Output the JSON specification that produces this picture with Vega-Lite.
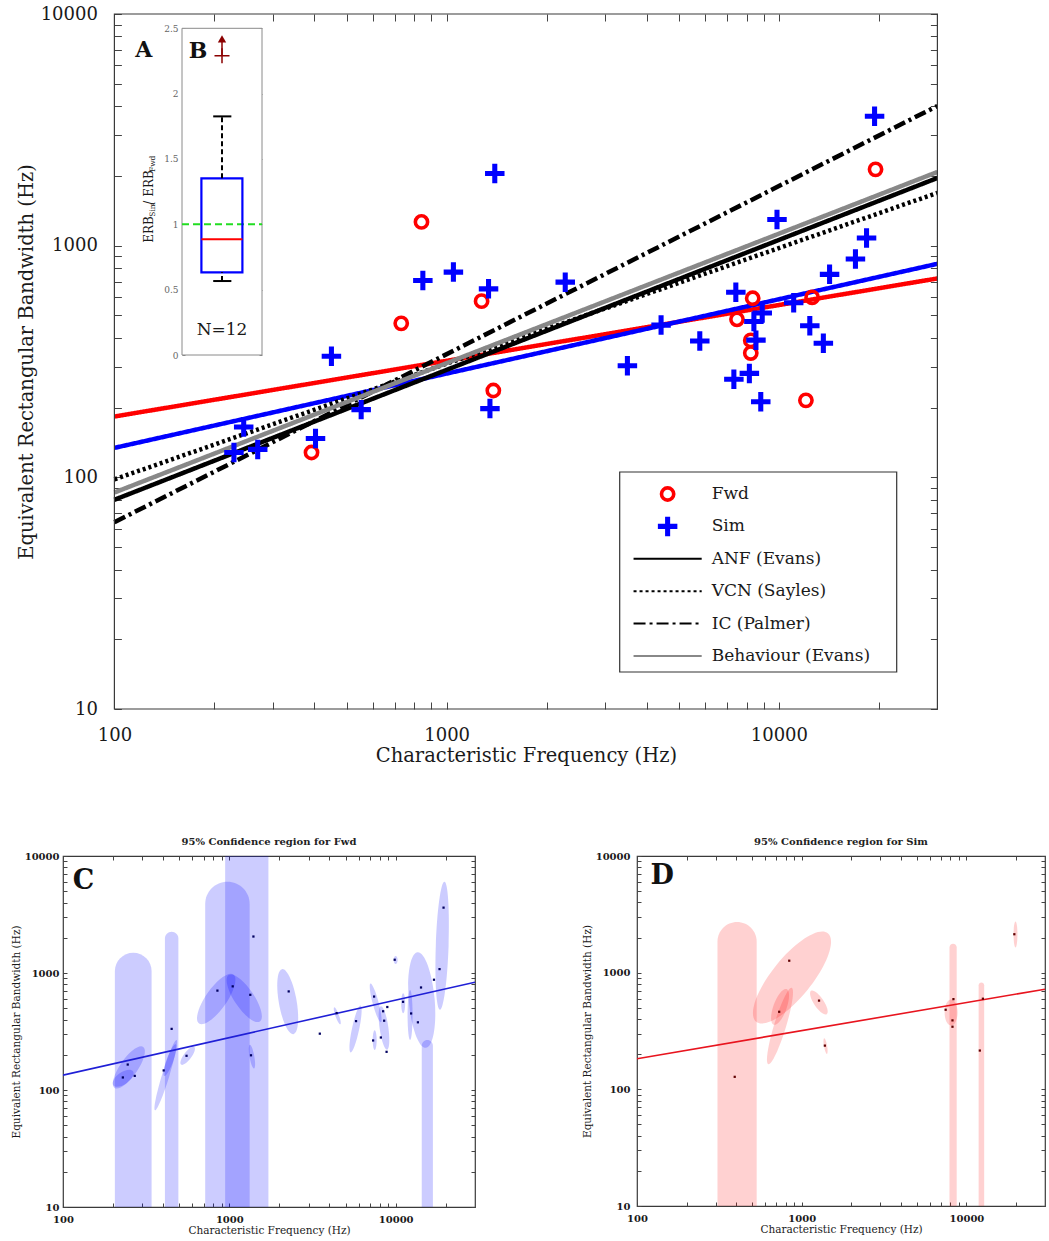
{
"$schema": "https://vega.github.io/schema/vega-lite/v6.json",
"padding": {"left": 10, "top": 5, "right": 0, "bottom": 0},
"config": {
  "view": {"stroke": "#3a3a3a", "strokeWidth": 1.2},
  "font": "DejaVu Serif",
  "axis": {"domain": false, "grid": false, "tickColor": "#444444", "tickWidth": 1, "labelColor": "#1a1a1a", "titleColor": "#1a1a1a", "titleFontWeight": "normal", "labelFont": "DejaVu Serif", "titleFont": "DejaVu Serif"},
  "text": {"font": "DejaVu Serif"}
},
"datasets": {
  "fwd": [{"cf":392,"erb":128},{"cf":730,"erb":462},{"cf":840,"erb":1266},{"cf":1274,"erb":576},{"cf":1382,"erb":237},{"cf":7480,"erb":481},{"cf":8340,"erb":593},{"cf":8230,"erb":390},{"cf":8230,"erb":344},{"cf":12060,"erb":215},{"cf":12590,"erb":598},{"cf":19540,"erb":2135}],
  "sim": [{"cf":229,"erb":128},{"cf":245,"erb":165},{"cf":270,"erb":132},{"cf":403,"erb":147},{"cf":450,"erb":333},{"cf":553,"erb":196},{"cf":848,"erb":707},{"cf":1048,"erb":769},{"cf":1337,"erb":651},{"cf":1396,"erb":2050},{"cf":1350,"erb":198},{"cf":2275,"erb":696},{"cf":3500,"erb":303},{"cf":4420,"erb":454},{"cf":5780,"erb":388},{"cf":7420,"erb":629},{"cf":7320,"erb":265},{"cf":8150,"erb":281},{"cf":8410,"erb":471},{"cf":8530,"erb":391},{"cf":8910,"erb":512},{"cf":8820,"erb":212},{"cf":9870,"erb":1298},{"cf":11080,"erb":567},{"cf":12390,"erb":451},{"cf":13610,"erb":379},{"cf":14210,"erb":752},{"cf":17000,"erb":876},{"cf":18360,"erb":1080},{"cf":19410,"erb":3620}],
  "lines": [
    {"series":"Fwd","cf":100,"erb":183},{"series":"Fwd","cf":30000,"erb":722},
    {"series":"Sim","cf":100,"erb":134},{"series":"Sim","cf":30000,"erb":835},
    {"series":"ANF (Evans)","cf":100,"erb":80},{"series":"ANF (Evans)","cf":30000,"erb":1960},
    {"series":"VCN (Sayles)","cf":100,"erb":98},{"series":"VCN (Sayles)","cf":30000,"erb":1690},
    {"series":"IC (Palmer)","cf":100,"erb":64},{"series":"IC (Palmer)","cf":30000,"erb":4010},
    {"series":"Behaviour (Evans)","cf":100,"erb":86},{"series":"Behaviour (Evans)","cf":30000,"erb":2080}
  ],
  "legendRows": [{"series":"Fwd"},{"series":"Sim"},{"series":"ANF (Evans)"},{"series":"VCN (Sayles)"},{"series":"IC (Palmer)"},{"series":"Behaviour (Evans)"}],
  "box": [{"q1":0.633,"median":0.885,"q3":1.352,"lo":0.566,"hi":1.826,"out":2.29}],
  "colsC": [{"lo":205,"hi":341,"top":1490},{"lo":410,"hi":494,"top":2254},{"lo":716,"hi":1325,"top":6026},{"lo":944,"hi":1718,"top":15000},{"lo":14350,"hi":16750,"top":267}],
  "ellC": [
    {"cf":834,"erb":600,"half":0.256,"kind":"k35","tilt":35},
    {"cf":1230,"erb":608,"half":0.239,"kind":"k35","tilt":-34},
    {"cf":249,"erb":156,"half":0.214,"kind":"k35","tilt":35},
    {"cf":230,"erb":126,"half":0.103,"kind":"k50","tilt":55},
    {"cf":415,"erb":134,"half":0.314,"kind":"k10","tilt":17},
    {"cf":440,"erb":180,"half":0.145,"kind":"k20","tilt":20},
    {"cf":562,"erb":196,"half":0.094,"kind":"k35","tilt":37},
    {"cf":1368,"erb":193,"half":0.103,"kind":"k20","tilt":-10},
    {"cf":2244,"erb":569,"half":0.282,"kind":"k27","tilt":-10},
    {"cf":4456,"erb":431,"half":0.077,"kind":"k20","tilt":-20},
    {"cf":5741,"erb":332,"half":0.205,"kind":"k15","tilt":12},
    {"cf":7585,"erb":555,"half":0.171,"kind":"k15","tilt":-15},
    {"cf":8511,"erb":339,"half":0.188,"kind":"k20","tilt":-8},
    {"cf":7480,"erb":267,"half":0.085,"kind":"k20","tilt":0},
    {"cf":10000,"erb":1291,"half":0.034,"kind":"k50","tilt":0},
    {"cf":11100,"erb":551,"half":0.085,"kind":"k20","tilt":0},
    {"cf":12210,"erb":437,"half":0.214,"kind":"k10","tilt":0},
    {"cf":14350,"erb":588,"half":0.41,"kind":"k27","tilt":-5},
    {"cf":19050,"erb":1710,"half":0.547,"kind":"k10","tilt":2}
  ],
  "colsD": [{"lo":308,"hi":533,"top":2716},{"lo":7890,"hi":8730,"top":1766},{"lo":11860,"hi":12820,"top":825}],
  "ellD": [
    {"cf":873,"erb":910,"half":0.487,"kind":"k35","tilt":39},
    {"cf":738,"erb":349,"half":0.342,"kind":"k15","tilt":17},
    {"cf":739,"erb":509,"half":0.162,"kind":"k35","tilt":20},
    {"cf":1271,"erb":555,"half":0.12,"kind":"k35","tilt":-34},
    {"cf":1396,"erb":235,"half":0.068,"kind":"k20","tilt":-10},
    {"cf":8070,"erb":455,"half":0.111,"kind":"k50","tilt":0},
    {"cf":19860,"erb":2128,"half":0.111,"kind":"k15","tilt":0}
  ]
},
"spacing": 71,
"vconcat": [
{
  "width": 874.4, "height": 695,
  "view": {"stroke": null},
  "layer": [
    {
      "layer": [
        {
          "data": {"name": "lines"},
          "mark": {"type": "line", "clip": true},
          "encoding": {
            "x": {"field": "cf", "type": "quantitative", "scale": {"type": "log", "domain": [100, 30000], "range": [51.4, 874.4], "nice": false},
              "axis": {"orient": "bottom", "values": [100,200,300,400,500,600,700,800,900,1000,2000,3000,4000,5000,6000,7000,8000,9000,10000,20000], "format": "d", "labelExpr": "indexof([10,100,1000,10000], datum.value) >= 0 ? datum.label : ''", "labelOverlap": false, "labelFlush": false, "offset": -7, "tickSize": 7, "labelPadding": 17, "labelFontSize": 18, "title": "Characteristic Frequency (Hz)", "titleFontSize": 19.5, "titlePadding": 2}},
            "y": {"field": "erb", "type": "quantitative", "scale": {"type": "log", "domain": [10, 10000], "nice": false},
              "axis": {"orient": "left", "values": [10,20,30,40,50,60,70,80,90,100,200,300,400,500,600,700,800,900,1000,2000,3000,4000,5000,6000,7000,8000,9000,10000], "format": "d", "labelExpr": "indexof([10,100,1000,10000], datum.value) >= 0 ? datum.label : ''", "labelOverlap": false, "labelFlush": false, "offset": -58.4, "tickSize": 7, "labelPadding": 17, "labelFontSize": 18, "title": "Equivalent Rectangular Bandwidth (Hz)", "titleFontSize": 19.5, "titlePadding": 4}},
            "color": {"field": "series", "type": "nominal", "legend": null,
              "scale": {"domain": ["Fwd","Sim","ANF (Evans)","VCN (Sayles)","IC (Palmer)","Behaviour (Evans)"], "range": ["#ff0000","#0000ff","#000000","#000000","#000000","#888888"]}},
            "strokeDash": {"field": "series", "type": "nominal", "scale": {"domain": ["Fwd","Sim","ANF (Evans)","VCN (Sayles)","IC (Palmer)","Behaviour (Evans)"], "range": [[1,0],[1,0],[1,0],[3,3],[12,4,3,4],[1,0]]}, "legend": null},
            "strokeWidth": {"field": "series", "type": "nominal", "scale": {"domain": ["Fwd","Sim","ANF (Evans)","VCN (Sayles)","IC (Palmer)","Behaviour (Evans)"], "range": [4.5,4.5,2,2,2,2]}, "legend": null}
          }
        },
        {
          "data": {"name": "fwd"},
          "mark": {"type": "point", "shape": "circle", "filled": false, "color": "#ff0000", "strokeWidth": 3.6, "size": 150, "opacity": 1},
          "encoding": {
            "x": {"field": "cf", "type": "quantitative", "scale": {"type": "log", "domain": [100, 30000], "range": [51.4, 874.4], "nice": false},
              "axis": {"orient": "top", "values": [100,200,300,400,500,600,700,800,900,1000,2000,3000,4000,5000,6000,7000,8000,9000,10000,20000], "labels": false, "offset": -7, "tickSize": 7, "title": null}},
            "y": {"field": "erb", "type": "quantitative", "scale": {"type": "log", "domain": [10, 10000], "nice": false},
              "axis": {"orient": "right", "values": [10,20,30,40,50,60,70,80,90,100,200,300,400,500,600,700,800,900,1000,2000,3000,4000,5000,6000,7000,8000,9000,10000], "labels": false, "offset": -7, "tickSize": 7, "title": null}}
          }
        },
        {
          "data": {"name": "sim"},
          "mark": {"type": "point", "shape": "M-1,-0.26H-0.26V-1H0.26V-0.26H1V0.26H0.26V1H-0.26V0.26H-1Z", "filled": true, "color": "#0000ff", "size": 380, "opacity": 1},
          "encoding": {
            "x": {"field": "cf", "type": "quantitative", "scale": {"type": "log", "domain": [100, 30000], "range": [51.4, 874.4], "nice": false}, "axis": null},
            "y": {"field": "erb", "type": "quantitative", "scale": {"type": "log", "domain": [10, 10000], "nice": false}, "axis": null}
          }
        },
        {
          "data": {"values": [{}]},
          "mark": {"type": "rect", "fill": "transparent", "stroke": "#3a3a3a", "strokeWidth": 1.2},
          "encoding": {
            "x": {"datum": 100, "type": "quantitative", "scale": {"type": "log", "domain": [100, 30000], "range": [51.4, 874.4], "nice": false}, "axis": null},
            "x2": {"datum": 30000},
            "y": {"datum": 10, "type": "quantitative", "scale": {"type": "log", "domain": [10, 10000], "nice": false}, "axis": null},
            "y2": {"datum": 10000}
          }
        },
        {
          "data": {"values": [{}]},
          "mark": {"type": "text", "text": "A", "fontSize": 22, "fontWeight": "bold", "align": "center", "baseline": "middle", "color": "#111111"},
          "encoding": {
            "x": {"datum": 122.5, "type": "quantitative", "scale": {"type": "log", "domain": [100, 30000], "range": [51.4, 874.4], "nice": false}, "axis": null},
            "y": {"datum": 7000, "type": "quantitative", "scale": {"type": "log", "domain": [10, 10000], "nice": false}, "axis": null}
          }
        }
      ],
      "resolve": {"axis": {"x": "independent", "y": "independent"}}
    },
    {
      "layer": [
        {
          "data": {"values": [{}]},
          "mark": {"type": "rect", "fill": "#ffffff", "stroke": "#8a8a8a", "strokeWidth": 1},
          "encoding": {
            "x": {"datum": 0, "type": "quantitative", "scale": {"domain": [0, 1], "range": [119, 199], "nice": false, "zero": false}, "axis": null},
            "x2": {"datum": 1},
            "y": {"datum": 0, "type": "quantitative", "scale": {"domain": [0, 2.5], "range": [341, 14.3], "nice": false, "zero": false},
              "axis": {"orient": "left", "offset": -122, "values": [0,0.5,1,1.5,2,2.5], "format": "~g", "tickSize": 3, "labelPadding": 4, "labelFontSize": 9, "labelColor": "#666666", "tickColor": "#888888", "labelFlush": false, "labelOverlap": false, "title": null}},
            "y2": {"datum": 2.5}
          }
        },
        {
          "data": {"values": [{}]},
          "mark": {"type": "rule", "color": "#22dd22", "strokeWidth": 2, "strokeDash": [7, 4]},
          "encoding": {
            "x": {"datum": 0, "type": "quantitative", "axis": null},
            "x2": {"datum": 1},
            "y": {"datum": 1, "type": "quantitative",
              "axis": {"orient": "right", "offset": -678.4, "values": [0,0.5,1,1.5,2,2.5], "labels": false, "tickSize": 3, "tickColor": "#888888", "title": null}}
          }
        },
        {
          "data": {"name": "box"},
          "mark": {"type": "rect", "fill": "transparent", "stroke": "#0000ff", "strokeWidth": 2.2},
          "encoding": {
            "x": {"datum": 0.2425, "type": "quantitative", "axis": null}, "x2": {"datum": 0.755},
            "y": {"field": "q1", "type": "quantitative", "axis": null}, "y2": {"field": "q3"}
          }
        },
        {
          "data": {"name": "box"},
          "mark": {"type": "rule", "color": "#ff0000", "strokeWidth": 2},
          "encoding": {
            "x": {"datum": 0.2425, "type": "quantitative", "axis": null}, "x2": {"datum": 0.755},
            "y": {"field": "median", "type": "quantitative", "axis": null}
          }
        },
        {
          "data": {"name": "box"},
          "mark": {"type": "rule", "color": "#000000", "strokeWidth": 2, "strokeDash": [5, 3]},
          "encoding": {
            "x": {"datum": 0.5, "type": "quantitative", "axis": null},
            "y": {"field": "q3", "type": "quantitative", "axis": null}, "y2": {"field": "hi"}
          }
        },
        {
          "data": {"name": "box"},
          "mark": {"type": "rule", "color": "#000000", "strokeWidth": 2, "strokeDash": [5, 3]},
          "encoding": {
            "x": {"datum": 0.5, "type": "quantitative", "axis": null},
            "y": {"field": "lo", "type": "quantitative", "axis": null}, "y2": {"field": "q1"}
          }
        },
        {
          "data": {"name": "box"},
          "mark": {"type": "rule", "color": "#000000", "strokeWidth": 2},
          "encoding": {
            "x": {"datum": 0.39, "type": "quantitative", "axis": null}, "x2": {"datum": 0.617},
            "y": {"field": "hi", "type": "quantitative", "axis": null}
          }
        },
        {
          "data": {"name": "box"},
          "mark": {"type": "rule", "color": "#000000", "strokeWidth": 2},
          "encoding": {
            "x": {"datum": 0.39, "type": "quantitative", "axis": null}, "x2": {"datum": 0.617},
            "y": {"field": "lo", "type": "quantitative", "axis": null}
          }
        },
        {
          "data": {"name": "box"},
          "mark": {"type": "rule", "color": "#8b0000", "strokeWidth": 1.5},
          "encoding": {
            "x": {"datum": 0.5, "type": "quantitative", "axis": null},
            "y": {"field": "out", "type": "quantitative", "axis": null}, "y2": {"datum": 2.4}
          }
        },
        {
          "data": {"name": "box"},
          "mark": {"type": "point", "shape": "M-1,-0.1H-0.1V-1H0.1V-0.1H1V0.1H0.1V1H-0.1V0.1H-1Z", "filled": true, "color": "#8b0000", "size": 225, "opacity": 1},
          "encoding": {
            "x": {"datum": 0.5, "type": "quantitative", "axis": null},
            "y": {"field": "out", "type": "quantitative", "axis": null}
          }
        },
        {
          "data": {"values": [{}]},
          "mark": {"type": "point", "shape": "triangle-up", "filled": true, "color": "#8b0000", "size": 70, "opacity": 1},
          "encoding": {
            "x": {"datum": 0.5, "type": "quantitative", "axis": null},
            "y": {"datum": 2.42, "type": "quantitative", "axis": null}
          }
        },
        {
          "data": {"values": [{}]},
          "mark": {"type": "text", "text": "N=12", "fontSize": 17, "align": "center", "baseline": "middle", "color": "#1a1a1a"},
          "encoding": {
            "x": {"datum": 0.5, "type": "quantitative", "axis": null},
            "y": {"datum": 0.19, "type": "quantitative", "axis": null}
          }
        },
        {
          "data": {"values": [{}]},
          "mark": {"type": "text", "text": "B", "fontSize": 22, "fontWeight": "bold", "align": "center", "baseline": "middle", "color": "#111111"},
          "encoding": {
            "x": {"datum": 0.2, "type": "quantitative", "axis": null},
            "y": {"datum": 2.33, "type": "quantitative", "axis": null}
          }
        },
        {
          "data": {"values": [{}]},
          "mark": {"type": "text", "text": "ERB", "fontSize": 12, "angle": 270, "align": "left", "baseline": "middle", "color": "#1a1a1a"},
          "encoding": {"x": {"datum": -0.4125, "type": "quantitative", "axis": null}, "y": {"datum": 0.859, "type": "quantitative", "axis": null}}
        },
        {
          "data": {"values": [{}]},
          "mark": {"type": "text", "text": "Sim", "fontSize": 7.5, "angle": 270, "align": "left", "baseline": "middle", "color": "#1a1a1a"},
          "encoding": {"x": {"datum": -0.3625, "type": "quantitative", "axis": null}, "y": {"datum": 1.058, "type": "quantitative", "axis": null}}
        },
        {
          "data": {"values": [{}]},
          "mark": {"type": "text", "text": "/ ERB", "fontSize": 12, "angle": 270, "align": "left", "baseline": "middle", "color": "#1a1a1a"},
          "encoding": {"x": {"datum": -0.4125, "type": "quantitative", "axis": null}, "y": {"datum": 1.15, "type": "quantitative", "axis": null}}
        },
        {
          "data": {"values": [{}]},
          "mark": {"type": "text", "text": "Fwd", "fontSize": 7.5, "angle": 270, "align": "left", "baseline": "middle", "color": "#1a1a1a"},
          "encoding": {"x": {"datum": -0.3625, "type": "quantitative", "axis": null}, "y": {"datum": 1.4, "type": "quantitative", "axis": null}}
        }
      ],
      "resolve": {"axis": {"x": "independent", "y": "independent"}}
    },
    {
      "data": {"values": [{}]},
      "mark": {"type": "rect", "fill": "#ffffff", "stroke": "#333333", "strokeWidth": 1.2},
      "encoding": {
        "x": {"datum": 0, "type": "quantitative", "scale": {"domain": [0, 1], "range": [556.7, 833.7], "nice": false, "zero": false}, "axis": null},
        "x2": {"datum": 1},
        "y": {"datum": 0, "type": "quantitative", "scale": {"domain": [0, 1], "range": [658, 458], "nice": false, "zero": false}, "axis": null},
        "y2": {"datum": 1}
      }
    },
    {
      "layer": [
        {
          "data": {"name": "legendRows"},
          "transform": [{"filter": "datum.series !== 'Fwd' && datum.series !== 'Sim'"}],
          "mark": {"type": "rule", "strokeWidth": 2},
          "encoding": {
            "x": {"datum": 0.05, "type": "quantitative", "scale": {"domain": [0, 1], "range": [556.7, 833.7], "nice": false, "zero": false}, "axis": null},
            "x2": {"datum": 0.296},
            "y": {"field": "series", "type": "nominal", "scale": {"type": "point", "domain": ["Fwd","Sim","ANF (Evans)","VCN (Sayles)","IC (Palmer)","Behaviour (Evans)"], "range": [480, 642], "padding": 0}, "axis": null},
            "color": {"field": "series", "type": "nominal", "legend": null,
              "scale": {"domain": ["Fwd","Sim","ANF (Evans)","VCN (Sayles)","IC (Palmer)","Behaviour (Evans)"], "range": ["#ff0000","#0000ff","#000000","#000000","#000000","#888888"]}},
            "strokeDash": {"field": "series", "type": "nominal", "scale": {"domain": ["Fwd","Sim","ANF (Evans)","VCN (Sayles)","IC (Palmer)","Behaviour (Evans)"], "range": [[1,0],[1,0],[1,0],[3,3],[12,4,3,4],[1,0]]}, "legend": null}
          }
        },
        {
          "data": {"name": "legendRows"},
          "transform": [{"filter": "datum.series === 'Fwd'"}],
          "mark": {"type": "point", "shape": "circle", "filled": false, "color": "#ff0000", "strokeWidth": 3.6, "size": 150, "opacity": 1},
          "encoding": {
            "x": {"datum": 0.173, "type": "quantitative", "axis": null},
            "y": {"field": "series", "type": "nominal", "axis": null}
          }
        },
        {
          "data": {"name": "legendRows"},
          "transform": [{"filter": "datum.series === 'Sim'"}],
          "mark": {"type": "point", "shape": "M-1,-0.26H-0.26V-1H0.26V-0.26H1V0.26H0.26V1H-0.26V0.26H-1Z", "filled": true, "color": "#0000ff", "size": 380, "opacity": 1},
          "encoding": {
            "x": {"datum": 0.173, "type": "quantitative", "axis": null},
            "y": {"field": "series", "type": "nominal", "axis": null}
          }
        },
        {
          "data": {"name": "legendRows"},
          "mark": {"type": "text", "align": "left", "baseline": "middle", "fontSize": 17, "color": "#1a1a1a"},
          "encoding": {
            "x": {"datum": 0.332, "type": "quantitative", "axis": null},
            "y": {"field": "series", "type": "nominal", "axis": null},
            "text": {"field": "series"}
          }
        }
      ]
    }
  ],
  "resolve": {"scale": {"x": "independent", "y": "independent"}}
},
{
  "spacing": 104,
  "hconcat": [
    {
      "width": 412, "height": 351,
      "title": {"text": "95% Confidence region for Fwd", "fontSize": 10, "fontWeight": "bold", "font": "DejaVu Serif", "offset": 4, "frame": "group", "anchor": "middle", "color": "#222222"},
      "layer": [
        {
          "data": {"name": "colsC"},
          "mark": {"type": "rect", "color": "#0000ff", "opacity": 0.2, "clip": true, "cornerRadiusTopLeft": 60, "cornerRadiusTopRight": 60},
          "encoding": {
            "x": {"field": "lo", "type": "quantitative", "scale": {"type": "log", "domain": [100, 30000], "nice": false},
              "axis": {"orient": "bottom", "values": [100,200,300,400,500,600,700,800,900,1000,2000,3000,4000,5000,6000,7000,8000,9000,10000,20000], "format": "d", "labelExpr": "indexof([10,100,1000,10000], datum.value) >= 0 ? datum.label : ''", "labelOverlap": false, "labelFlush": false, "offset": -4, "tickSize": 4, "labelPadding": 7, "labelFontSize": 10, "labelFontWeight": "bold", "title": "Characteristic Frequency (Hz)", "titleFontSize": 10.5, "titlePadding": 1}},
            "x2": {"field": "hi"},
            "y": {"field": "top", "type": "quantitative", "scale": {"type": "log", "domain": [10, 10000], "nice": false},
              "axis": {"orient": "left", "values": [10,20,30,40,50,60,70,80,90,100,200,300,400,500,600,700,800,900,1000,2000,3000,4000,5000,6000,7000,8000,9000,10000], "format": "d", "labelExpr": "indexof([10,100,1000,10000], datum.value) >= 0 ? datum.label : ''", "labelOverlap": false, "labelFlush": false, "offset": -4, "tickSize": 4, "labelPadding": 4, "labelFontSize": 10, "labelFontWeight": "bold", "title": "Equivalent Rectangular Bandwidth (Hz)", "titleFontSize": 10.5, "titlePadding": 3}},
            "y2": {"datum": 10}
          }
        },
        {
          "data": {"name": "ellC"},
          "mark": {"type": "point", "filled": true, "color": "#0000ff", "opacity": 0.2, "clip": true},
          "encoding": {
            "x": {"field": "cf", "type": "quantitative", "scale": {"type": "log", "domain": [100, 30000], "nice": false},
              "axis": {"orient": "top", "values": [100,200,300,400,500,600,700,800,900,1000,2000,3000,4000,5000,6000,7000,8000,9000,10000,20000], "labels": false, "offset": -4, "tickSize": 4, "title": null}},
            "y": {"field": "erb", "type": "quantitative", "scale": {"type": "log", "domain": [10, 10000], "nice": false},
              "axis": {"orient": "right", "values": [10,20,30,40,50,60,70,80,90,100,200,300,400,500,600,700,800,900,1000,2000,3000,4000,5000,6000,7000,8000,9000,10000], "labels": false, "offset": -4, "tickSize": 4, "title": null}},
            "shape": {"field": "kind", "type": "nominal", "legend": null, "scale": {"domain": ["k10","k15","k20","k27","k35","k50"], "range": [
              "M0,-1C0.0552,-1,0.1,-0.5523,0.1,0C0.1,0.5523,0.0552,1,0,1C-0.0552,1,-0.1,0.5523,-0.1,0C-0.1,-0.5523,-0.0552,-1,0,-1Z",
              "M0,-1C0.0828,-1,0.15,-0.5523,0.15,0C0.15,0.5523,0.0828,1,0,1C-0.0828,1,-0.15,0.5523,-0.15,0C-0.15,-0.5523,-0.0828,-1,0,-1Z",
              "M0,-1C0.1105,-1,0.2,-0.5523,0.2,0C0.2,0.5523,0.1105,1,0,1C-0.1105,1,-0.2,0.5523,-0.2,0C-0.2,-0.5523,-0.1105,-1,0,-1Z",
              "M0,-1C0.1491,-1,0.27,-0.5523,0.27,0C0.27,0.5523,0.1491,1,0,1C-0.1491,1,-0.27,0.5523,-0.27,0C-0.27,-0.5523,-0.1491,-1,0,-1Z",
              "M0,-1C0.1933,-1,0.35,-0.5523,0.35,0C0.35,0.5523,0.1933,1,0,1C-0.1933,1,-0.35,0.5523,-0.35,0C-0.35,-0.5523,-0.1933,-1,0,-1Z",
              "M0,-1C0.2762,-1,0.5,-0.5523,0.5,0C0.5,0.5523,0.2762,1,0,1C-0.2762,1,-0.5,0.5523,-0.5,0C-0.5,-0.5523,-0.2762,-1,0,-1Z"]}},
            "size": {"field": "half", "type": "quantitative", "legend": null, "scale": {"type": "pow", "exponent": 2, "domain": [0, 1], "range": [0, 54756]}},
            "angle": {"field": "tilt", "type": "quantitative", "scale": null}
          }
        },
        {
          "data": {"name": "lines"},
          "transform": [{"filter": "datum.series === 'Sim'"}],
          "mark": {"type": "line", "color": "#1f1fd6", "strokeWidth": 1.6, "clip": true},
          "encoding": {
            "x": {"field": "cf", "type": "quantitative", "scale": {"type": "log", "domain": [100, 30000], "nice": false}, "axis": null},
            "y": {"field": "erb", "type": "quantitative", "scale": {"type": "log", "domain": [10, 10000], "nice": false}, "axis": null}
          }
        },
        {
          "data": {"name": "sim"},
          "mark": {"type": "point", "shape": "square", "filled": true, "color": "#000060", "size": 5, "opacity": 1},
          "encoding": {
            "x": {"field": "cf", "type": "quantitative", "scale": {"type": "log", "domain": [100, 30000], "nice": false}, "axis": null},
            "y": {"field": "erb", "type": "quantitative", "scale": {"type": "log", "domain": [10, 10000], "nice": false}, "axis": null}
          }
        },
        {
          "data": {"values": [{}]},
          "mark": {"type": "text", "text": "C", "fontSize": 27, "fontWeight": "bold", "align": "center", "baseline": "middle", "color": "#111111"},
          "encoding": {
            "x": {"datum": 133, "type": "quantitative", "scale": {"type": "log", "domain": [100, 30000], "nice": false}, "axis": null},
            "y": {"datum": 6110, "type": "quantitative", "scale": {"type": "log", "domain": [10, 10000], "nice": false}, "axis": null}
          }
        }
      ],
      "resolve": {"axis": {"x": "independent", "y": "independent"}}
    },
    {
      "width": 408, "height": 350,
      "title": {"text": "95% Confidence region for Sim", "fontSize": 10, "fontWeight": "bold", "font": "DejaVu Serif", "offset": 4, "frame": "group", "anchor": "middle", "color": "#222222"},
      "layer": [
        {
          "data": {"name": "colsD"},
          "mark": {"type": "rect", "color": "#ff0000", "opacity": 0.18, "clip": true, "cornerRadiusTopLeft": 60, "cornerRadiusTopRight": 60},
          "encoding": {
            "x": {"field": "lo", "type": "quantitative", "scale": {"type": "log", "domain": [100, 30000], "nice": false},
              "axis": {"orient": "bottom", "values": [100,200,300,400,500,600,700,800,900,1000,2000,3000,4000,5000,6000,7000,8000,9000,10000,20000], "format": "d", "labelExpr": "indexof([10,100,1000,10000], datum.value) >= 0 ? datum.label : ''", "labelOverlap": false, "labelFlush": false, "offset": -4, "tickSize": 4, "labelPadding": 7, "labelFontSize": 10, "labelFontWeight": "bold", "title": "Characteristic Frequency (Hz)", "titleFontSize": 10.5, "titlePadding": 1}},
            "x2": {"field": "hi"},
            "y": {"field": "top", "type": "quantitative", "scale": {"type": "log", "domain": [10, 10000], "nice": false},
              "axis": {"orient": "left", "values": [10,20,30,40,50,60,70,80,90,100,200,300,400,500,600,700,800,900,1000,2000,3000,4000,5000,6000,7000,8000,9000,10000], "format": "d", "labelExpr": "indexof([10,100,1000,10000], datum.value) >= 0 ? datum.label : ''", "labelOverlap": false, "labelFlush": false, "offset": -4, "tickSize": 4, "labelPadding": 7, "labelFontSize": 10, "labelFontWeight": "bold", "title": "Equivalent Rectangular Bandwidth (Hz)", "titleFontSize": 10.5, "titlePadding": 3}},
            "y2": {"datum": 10}
          }
        },
        {
          "data": {"name": "ellD"},
          "mark": {"type": "point", "filled": true, "color": "#ff0000", "opacity": 0.18, "clip": true},
          "encoding": {
            "x": {"field": "cf", "type": "quantitative", "scale": {"type": "log", "domain": [100, 30000], "nice": false},
              "axis": {"orient": "top", "values": [100,200,300,400,500,600,700,800,900,1000,2000,3000,4000,5000,6000,7000,8000,9000,10000,20000], "labels": false, "offset": -4, "tickSize": 4, "title": null}},
            "y": {"field": "erb", "type": "quantitative", "scale": {"type": "log", "domain": [10, 10000], "nice": false},
              "axis": {"orient": "right", "values": [10,20,30,40,50,60,70,80,90,100,200,300,400,500,600,700,800,900,1000,2000,3000,4000,5000,6000,7000,8000,9000,10000], "labels": false, "offset": -4, "tickSize": 4, "title": null}},
            "shape": {"field": "kind", "type": "nominal", "legend": null, "scale": {"domain": ["k10","k15","k20","k27","k35","k50"], "range": [
              "M0,-1C0.0552,-1,0.1,-0.5523,0.1,0C0.1,0.5523,0.0552,1,0,1C-0.0552,1,-0.1,0.5523,-0.1,0C-0.1,-0.5523,-0.0552,-1,0,-1Z",
              "M0,-1C0.0828,-1,0.15,-0.5523,0.15,0C0.15,0.5523,0.0828,1,0,1C-0.0828,1,-0.15,0.5523,-0.15,0C-0.15,-0.5523,-0.0828,-1,0,-1Z",
              "M0,-1C0.1105,-1,0.2,-0.5523,0.2,0C0.2,0.5523,0.1105,1,0,1C-0.1105,1,-0.2,0.5523,-0.2,0C-0.2,-0.5523,-0.1105,-1,0,-1Z",
              "M0,-1C0.1491,-1,0.27,-0.5523,0.27,0C0.27,0.5523,0.1491,1,0,1C-0.1491,1,-0.27,0.5523,-0.27,0C-0.27,-0.5523,-0.1491,-1,0,-1Z",
              "M0,-1C0.1933,-1,0.35,-0.5523,0.35,0C0.35,0.5523,0.1933,1,0,1C-0.1933,1,-0.35,0.5523,-0.35,0C-0.35,-0.5523,-0.1933,-1,0,-1Z",
              "M0,-1C0.2762,-1,0.5,-0.5523,0.5,0C0.5,0.5523,0.2762,1,0,1C-0.2762,1,-0.5,0.5523,-0.5,0C-0.5,-0.5523,-0.2762,-1,0,-1Z"]}},
            "size": {"field": "half", "type": "quantitative", "legend": null, "scale": {"type": "pow", "exponent": 2, "domain": [0, 1], "range": [0, 54756]}},
            "angle": {"field": "tilt", "type": "quantitative", "scale": null}
          }
        },
        {
          "data": {"name": "lines"},
          "transform": [{"filter": "datum.series === 'Fwd'"}],
          "mark": {"type": "line", "color": "#e8141e", "strokeWidth": 1.6, "clip": true},
          "encoding": {
            "x": {"field": "cf", "type": "quantitative", "scale": {"type": "log", "domain": [100, 30000], "nice": false}, "axis": null},
            "y": {"field": "erb", "type": "quantitative", "scale": {"type": "log", "domain": [10, 10000], "nice": false}, "axis": null}
          }
        },
        {
          "data": {"name": "fwd"},
          "mark": {"type": "point", "shape": "square", "filled": true, "color": "#600000", "size": 5, "opacity": 1},
          "encoding": {
            "x": {"field": "cf", "type": "quantitative", "scale": {"type": "log", "domain": [100, 30000], "nice": false}, "axis": null},
            "y": {"field": "erb", "type": "quantitative", "scale": {"type": "log", "domain": [10, 10000], "nice": false}, "axis": null}
          }
        },
        {
          "data": {"values": [{}]},
          "mark": {"type": "text", "text": "D", "fontSize": 27, "fontWeight": "bold", "align": "center", "baseline": "middle", "color": "#111111"},
          "encoding": {
            "x": {"datum": 142, "type": "quantitative", "scale": {"type": "log", "domain": [100, 30000], "nice": false}, "axis": null},
            "y": {"datum": 6730, "type": "quantitative", "scale": {"type": "log", "domain": [10, 10000], "nice": false}, "axis": null}
          }
        }
      ],
      "resolve": {"axis": {"x": "independent", "y": "independent"}}
    }
  ]
}
]
}
